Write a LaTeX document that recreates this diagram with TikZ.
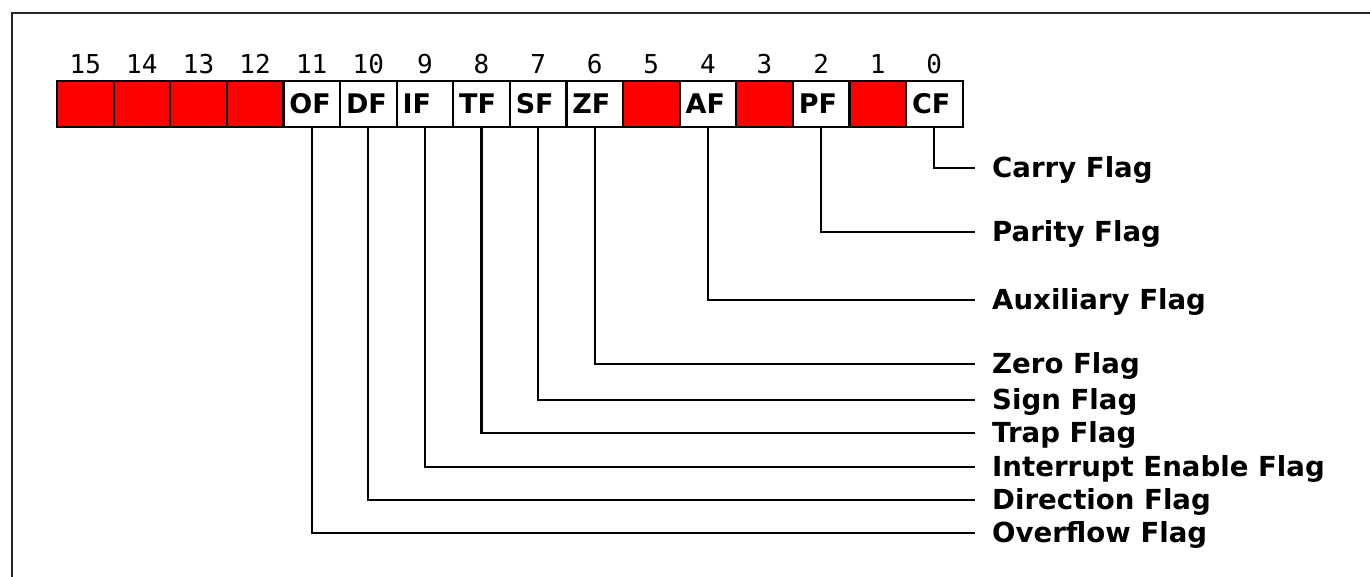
\documentclass[tikz,border=0pt]{standalone}
\usepackage{fontspec}
\newfontfamily\labfont{DejaVu Sans}
\newfontfamily\numfont{DejaVu Sans Mono}
\begin{document}
\begin{tikzpicture}[x=1pt,y=-1pt,
  cellbox/.style={draw=black, line width=2.2pt, minimum width=56.6pt, minimum height=46pt, inner sep=0pt, outer sep=0pt},
  redcell/.style={cellbox, fill=red},
  flagcell/.style={cellbox, fill=white, text width=44.6pt, inner xsep=6pt, align=left,
     font=\labfont\bfseries\fontsize{27}{27}\selectfont, text height=19pt, text depth=0pt},
  bitnum/.style={font=\numfont\fontsize{26}{26}\selectfont, anchor=base, inner sep=0pt},
  flaglabel/.style={font=\labfont\bfseries\fontsize{27.6}{27.6}\selectfont, anchor=west, inner sep=0pt, text height=19pt, text depth=0pt},
  conn/.style={draw=black, line width=2.2pt},
  frame/.style={draw=black!85, line width=2.2pt}]
\useasboundingbox (0,0) rectangle (1370,577);
\coordinate (fa) at (12,577);
\coordinate (fb) at (12,13);
\coordinate (fc) at (1370,13);
\draw[frame] (fa) -- (fb) -- (fc);
% cells
\foreach \b/\t in {15/,14/,13/,12/,5/,3/,1/} {
  \node[redcell] (c\b) at ({85.3+(15-\b)*56.6},104) {};
}
\foreach \b/\t in {11/OF,10/DF,9/IF,8/TF,7/SF,6/ZF,4/AF,2/PF,0/CF} {
  \node[flagcell] (c\b) at ({85.3+(15-\b)*56.6},104) {\t};
}
% bit numbers
\foreach \b in {15,14,...,0} {
  \node[bitnum] (n\b) at ([yshift=7pt]c\b.north) {\b};
}
% labels and connectors
\foreach \b/\yy/\t in {0/168/Carry Flag,2/232/Parity Flag,4/300/Auxiliary Flag,6/364/Zero Flag,7/400/Sign Flag,8/433/Trap Flag,9/467/Interrupt Enable Flag,10/500/Direction Flag,11/533/Overflow Flag} {
  \node[flaglabel] (l\b) at (992,\yy) {\t};
  \draw[conn] (c\b.south) |- ([xshift=-17pt]l\b.west);
}
\end{tikzpicture}
\end{document}
